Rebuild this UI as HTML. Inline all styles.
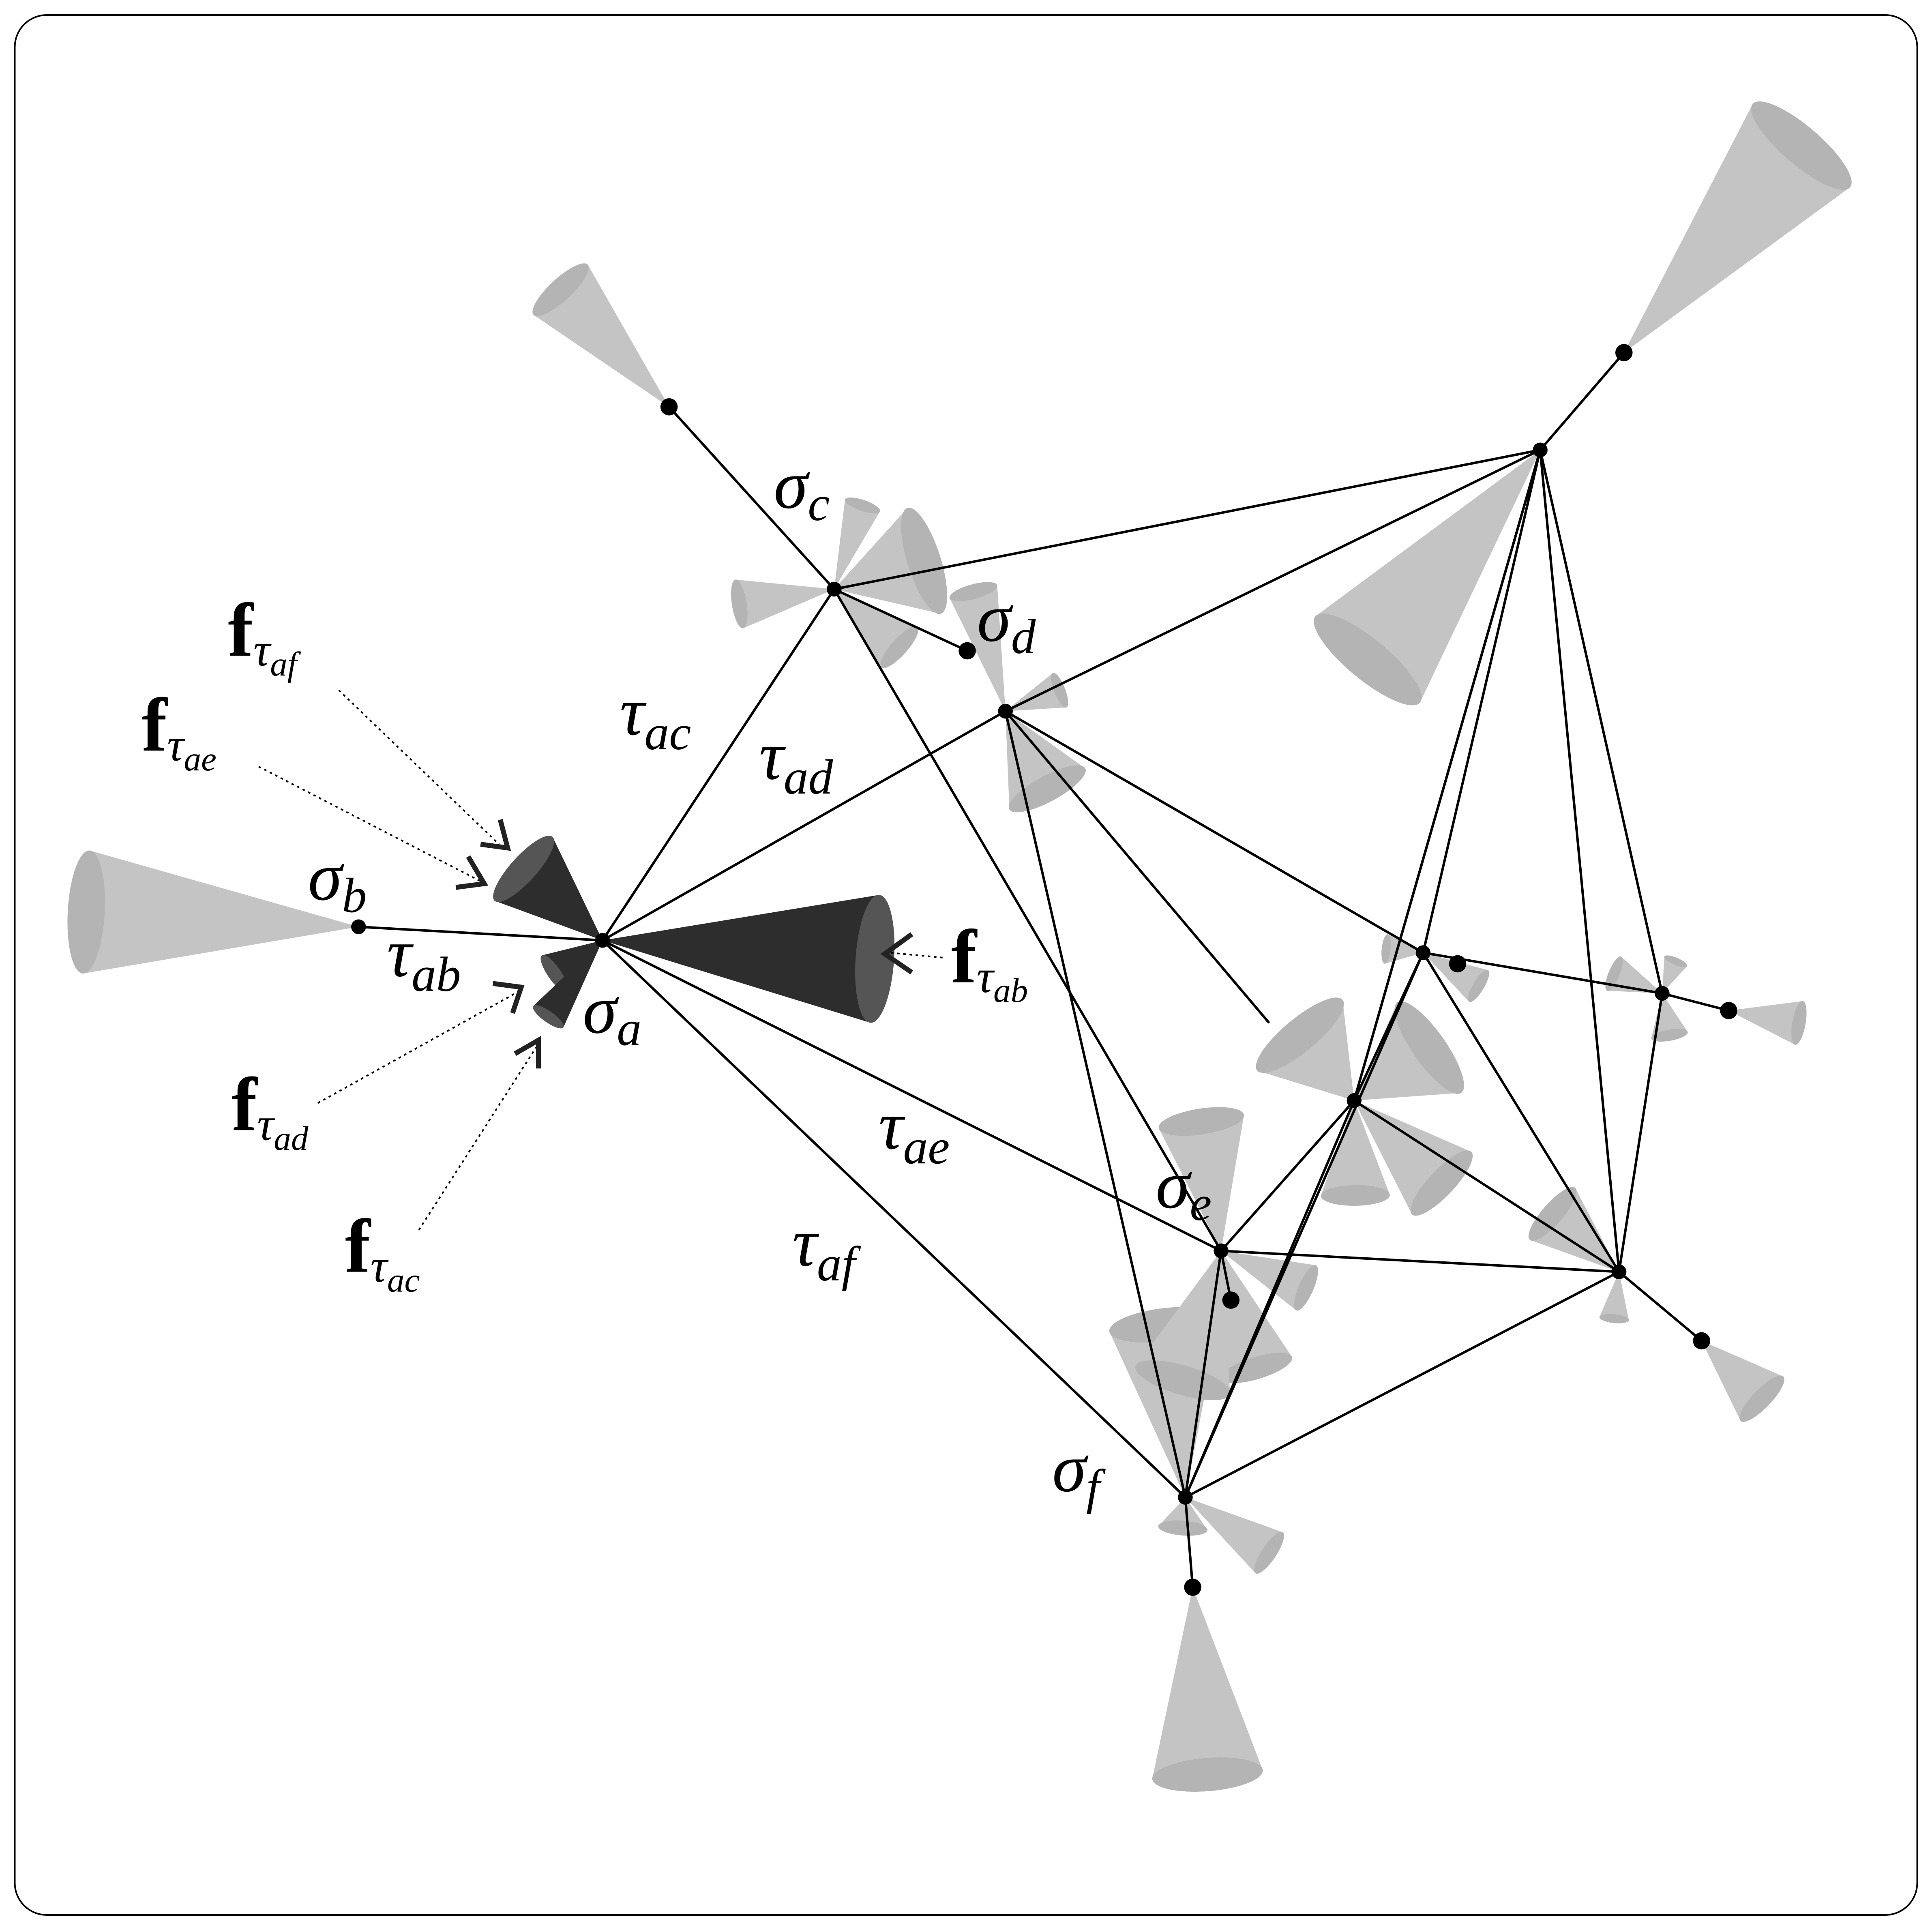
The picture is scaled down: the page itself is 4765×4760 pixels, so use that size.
<!DOCTYPE html>
<html><head><meta charset="utf-8"><style>
html,body{margin:0;padding:0;background:#fff}
svg{display:block}
text{font-family:"Liberation Serif",serif;fill:#000}
</style></head><body>
<svg id="chart" width="4765" height="4760" viewBox="0 0 1568 1566" xmlns="http://www.w3.org/2000/svg">
<rect x="12" y="12" width="1544" height="1542" rx="26" fill="#fff" stroke="#000" stroke-width="1.3"/>
<g id="cones"></g><g id="edges"></g><g id="nodes"></g>
</svg>
<script>
const NS='http://www.w3.org/2000/svg';
const nodeNames=['a','b','c','d','dd','cc','tr','trd','e','ed','f','fd','n1','n1d','n2','n2d','n3','n4','n4d'];
const nodeX=[489,291,677,816,785,543,1250,1318,991,999,962,968,1155,1183,1349,1403,1099,1314,1381];
const nodeY=[763,752,478,577,528,330,365,286,1015,1055,1215,1288,773,782,806,820,893,1032,1088];
const edgeFrom=['a','a','a','a','a','c','c','c','d','d','d','d','c','tr','tr','tr','tr','tr','n1','n1','n1','n3','n3','n3','e','f','n2','e','f','f','n2','n4','tr','f'];
const edgeTo=['b','c','d','e','f','cc','dd','e','tr','f','n1','n3x','tr','trd','n1','n3','n2','n4','n2','n3','n4','e','f','n4','n4','n4','n4','ed','fd','n1','n2d','n4d','n3','e'];
const coneAx=[291,543,1318,968,1250,489,489,489,489,677,677,677,677,816,816,816,991,991,991,962,962,1155,1155,1349,1349,1349,1403,1314,1314,1381,1099,1099,1099,1099,991,962];
const coneAy=[752,330,286,1288,365,763,763,763,763,478,478,478,478,577,577,577,1015,1015,1015,1215,1215,773,773,806,806,806,820,1032,1032,1088,893,893,893,893,1015,1215];
const coneBx=[70,455,1462,980,1110,710,425,450,445,750,600,700,730,850,790,860,975,1060,1020,945,1030,1125,1200,1310,1360,1355,1460,1260,1310,1430,1055,1160,1100,1170,960,960];
const coneBy=[740,235,118,1440,535,778,705,790,825,455,490,410,525,640,480,560,910,1045,1110,1075,1260,770,800,790,780,840,830,985,1070,1135,840,850,970,960,1120,1240];
const coneW=[50,30,52,45,55,52,35,18,15,45,20,15,22,35,20,15,35,20,30,45,20,12,15,15,10,15,18,28,12,25,45,45,28,35,40,20];
const coneDark=[0,0,0,0,0,1,1,1,1,0,0,0,0,0,0,0,0,0,0,0,0,0,0,0,0,0,0,0,0,0,0,0,0,0,0,0];
function idx(n){return nodeNames.indexOf(n);}
const cg=document.getElementById('cones');
for(let i=0;i<coneAx.length;i++){
 const ax=coneAx[i],ay=coneAy[i],bx=coneBx[i],by=coneBy[i],w=coneW[i];
 let dx=bx-ax,dy=by-ay;const L=Math.hypot(dx,dy);const px=-dy/L*w,py=dx/L*w;
 const g=document.createElementNS(NS,'g');
 
 
 const p=document.createElementNS(NS,'path');
 const ang=Math.atan2(dy,dx)*180/Math.PI;
 p.setAttribute('d',`M${ax},${ay}L${bx+px},${by+py}A${w*0.3},${w} ${ang} 0 0 ${bx-px},${by-py}Z`);
 p.setAttribute('fill',coneDark[i]?'#2d2d2d':'#c4c4c4');
 g.appendChild(p);
 const e=document.createElementNS(NS,'ellipse');
 e.setAttribute('cx',bx);e.setAttribute('cy',by);e.setAttribute('rx',w*0.3);e.setAttribute('ry',w);
 e.setAttribute('transform',`rotate(${ang} ${bx} ${by})`);
 e.setAttribute('fill',coneDark[i]?'#555':'#b4b4b4');
 g.appendChild(e);
 cg.appendChild(g);
}
const eg=document.getElementById('edges');
for(let i=0;i<edgeFrom.length;i++){
 const a=idx(edgeFrom[i]);let x2,y2;
 if(edgeTo[i]==='n3x'){x2=1030;y2=830;}else{const b=idx(edgeTo[i]);x2=nodeX[b];y2=nodeY[b];}
 const l=document.createElementNS(NS,'line');
 
 
 l.setAttribute('x1',nodeX[a]);l.setAttribute('y1',nodeY[a]);l.setAttribute('x2',x2);l.setAttribute('y2',y2);
 l.setAttribute('stroke','#000');l.setAttribute('stroke-width','2');
 eg.appendChild(l);
}
const ng=document.getElementById('nodes');
for(let i=0;i<nodeNames.length;i++){
 const c=document.createElementNS(NS,'circle');
 
 
 c.setAttribute('cx',nodeX[i]);c.setAttribute('cy',nodeY[i]);c.setAttribute('r',nodeNames[i].length>1&&nodeNames[i]!=='tr'&&!/n\d$/.test(nodeNames[i])?7:6);
 c.setAttribute('fill','#000');ng.appendChild(c);
}
</script>
<svg style="position:absolute;left:0;top:0" width="4765" height="4760" viewBox="0 0 1568 1566">
<g font-style="italic" font-size="56" font-family="Liberation Serif,serif">
<text x="473" y="838">σ<tspan font-size="40" dy="10">a</tspan></text>
<text x="250" y="730">σ<tspan font-size="40" dy="10">b</tspan></text>
<text x="628" y="412">σ<tspan font-size="40" dy="10">c</tspan></text>
<text x="793" y="520">σ<tspan font-size="40" dy="10">d</tspan></text>
<text x="938" y="980">σ<tspan font-size="40" dy="10">e</tspan></text>
<text x="854" y="1210">σ<tspan font-size="40" dy="10">f</tspan></text>
<text x="314" y="792">τ<tspan font-size="40" dy="12">ab</tspan></text>
<text x="503" y="596">τ<tspan font-size="40" dy="12">ac</tspan></text>
<text x="616" y="632">τ<tspan font-size="40" dy="12">ad</tspan></text>
<text x="713" y="932">τ<tspan font-size="40" dy="12">ae</tspan></text>
<text x="643" y="1027">τ<tspan font-size="40" dy="12">af</tspan></text>
</g>
<g font-weight="bold" font-size="62" font-family="Liberation Serif,serif">
<text x="185" y="532">f<tspan font-style="italic" font-weight="normal" font-size="38" dy="8">τ<tspan font-size="28" dy="8">af</tspan></tspan></text>
<text x="115" y="609">f<tspan font-style="italic" font-weight="normal" font-size="38" dy="8">τ<tspan font-size="28" dy="8">ae</tspan></tspan></text>
<text x="772" y="797">f<tspan font-style="italic" font-weight="normal" font-size="38" dy="8">τ<tspan font-size="28" dy="8">ab</tspan></tspan></text>
<text x="188" y="917">f<tspan font-style="italic" font-weight="normal" font-size="38" dy="8">τ<tspan font-size="28" dy="8">ad</tspan></tspan></text>
<text x="280" y="1032">f<tspan font-style="italic" font-weight="normal" font-size="38" dy="8">τ<tspan font-size="28" dy="8">ac</tspan></tspan></text>
</g>
<g stroke="#000" stroke-width="1.3" stroke-dasharray="2,3" fill="none">
<path d="M275,560 L405,685"/>
<path d="M210,622 L390,715"/>
<path d="M765,777 L722,773"/>
<path d="M258,895 L420,805"/>
<path d="M340,998 L435,850"/>
</g>
<g stroke="#222" stroke-width="4" fill="none">
<path d="M406,665 L412,688 L390,685"/>
<path d="M380,695 L393,717 L370,720"/>
<path d="M740,758 L718,774 L740,789"/>
<path d="M400,798 L423,801 L416,822"/>
<path d="M418,855 L437,844 L437,867"/>
</g>
</svg>
</body></html>
